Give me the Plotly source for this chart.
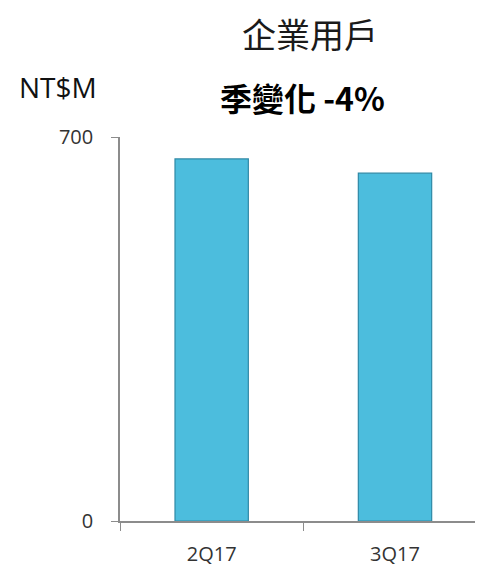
import plotly.graph_objects as go

categories = ["2Q17", "3Q17"]
values = [660, 634]
y_ticks = [0, 700]
title_text = "企業用戶"
subtitle_text = "季變化 -4%"
unit_text = "NT$M"

# page is shown with an 8px body margin; compensate
OFF = 8
W, H = 483 - OFF, 576 - OFF
L, T = 120 - OFF, 137 - OFF
R = 0
B = H - (521 - OFF)
pw, ph = W - L - R, H - T - B

def px_x(x):
    return (x - OFF - L) / pw

def px_y(y):
    return ((521 - OFF) - (y - OFF)) / ph

fig = go.Figure()
fig.add_trace(go.Bar(
    x=categories, y=values, width=0.4,
    marker=dict(color="#4cbddd", line=dict(color="#2f89a6", width=1.2)),
))

fig.update_layout(
    width=W, height=H,
    margin=dict(l=L, r=R, t=T, b=B),
    paper_bgcolor="white", plot_bgcolor="white",
    showlegend=False,
    xaxis=dict(
        range=[-0.5, 1.48],
        showline=True, linecolor="#8c8c8c", linewidth=1.5,
        ticks="outside", ticklen=8, tickcolor="#8c8c8c",
        tickson="boundaries",
        ticklabelstandoff=14,
        tickfont=dict(family="Open Sans, Liberation Sans", size=20, color="#333333"),
        showgrid=False,
    ),
    yaxis=dict(
        range=[0, 700], tickvals=y_ticks,
        showline=True, linecolor="#8c8c8c", linewidth=1.5,
        ticks="outside", ticklen=7, tickcolor="#8c8c8c",
        ticklabelstandoff=14,
        showgrid=True, gridcolor="#8c8c8c", gridwidth=1.2,
        zeroline=False,
        tickfont=dict(family="Open Sans, Liberation Sans", size=20, color="#333333"),
    ),
    annotations=[
        dict(text=title_text, x=px_x(310), y=px_y(33), xref="paper", yref="paper",
             showarrow=False, xanchor="center", yanchor="middle",
             font=dict(family="Noto Sans CJK TC", size=34, color="#1a1a1a")),
        dict(text="<b>" + subtitle_text + "</b>", x=px_x(302), y=px_y(97), xref="paper", yref="paper",
             showarrow=False, xanchor="center", yanchor="middle",
             font=dict(family="Noto Sans CJK TC", size=32, color="#000000")),
        dict(text=unit_text, x=px_x(58), y=px_y(87), xref="paper", yref="paper",
             showarrow=False, xanchor="center", yanchor="middle",
             font=dict(family="Open Sans, Liberation Sans", size=28, color="#111111")),
    ],
)

fig.write_html("out.html")
